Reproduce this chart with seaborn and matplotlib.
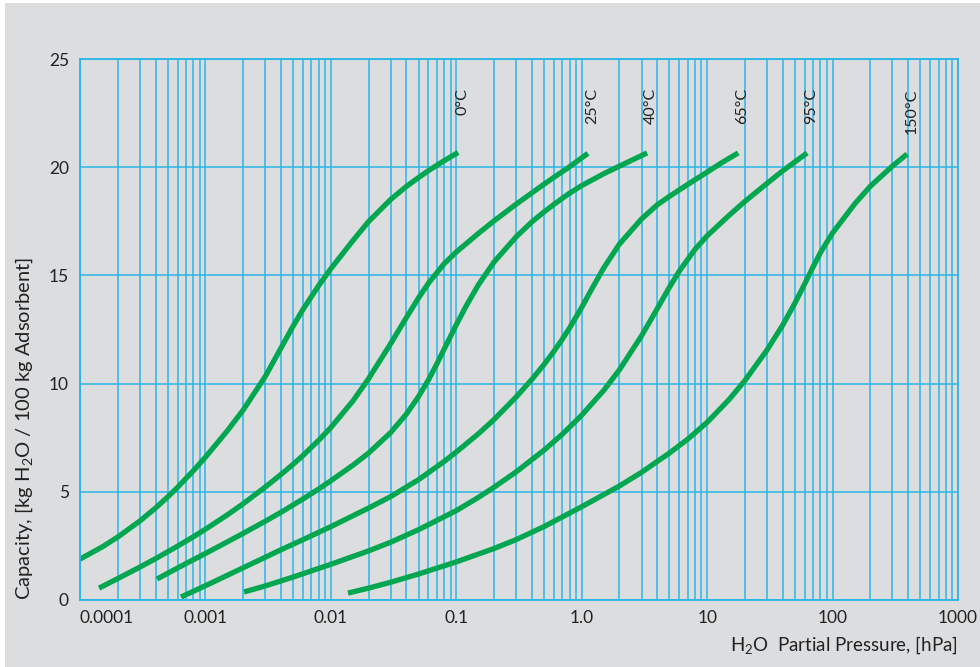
import numpy as np
import pandas as pd
import matplotlib.pyplot as plt
import seaborn as sns
from matplotlib.patches import Rectangle
from matplotlib.ticker import FixedLocator, NullFormatter

# isotherms: partial pressure [hPa] vs capacity [kg/100 kg]
temps = ['0°C', '25°C', '40°C', '65°C', '95°C', '150°C']

p_0 = [1.0e-4, 1.5e-4, 2e-4, 3e-4, 4e-4, 5e-4, 6e-4, 8e-4, 1e-3, 1.5e-3, 2e-3, 3e-3,
       4e-3, 5e-3, 6e-3, 8e-3, 0.01, 0.015, 0.02, 0.03, 0.04, 0.05, 0.06, 0.08, 0.1034]
q_0 = [1.89, 2.45, 2.91, 3.65, 4.25, 4.76, 5.21, 5.97, 6.60, 7.83, 8.78, 10.33,
       11.64, 12.66, 13.43, 14.53, 15.31, 16.61, 17.49, 18.51, 19.11, 19.52, 19.84, 20.30, 20.68]

p_25 = [1.42e-4, 2e-4, 3e-4, 4e-4, 6e-4, 8e-4, 1e-3, 1.5e-3, 2e-3, 3e-3, 4e-3, 5e-3,
        6e-3, 8e-3, 0.01, 0.015, 0.02, 0.03, 0.04, 0.05, 0.06, 0.08, 0.1, 0.15,
        0.2, 0.3, 0.4, 0.5, 0.6, 0.8, 1.12]
q_25 = [0.55, 0.99, 1.52, 1.91, 2.49, 2.92, 3.27, 3.94, 4.45, 5.22, 5.80, 6.27,
        6.68, 7.38, 7.97, 9.20, 10.23, 11.85, 13.05, 13.96, 14.64, 15.54, 16.08, 16.94,
        17.52, 18.29, 18.81, 19.21, 19.53, 20.02, 20.64]

p_40 = [4.11e-4, 6e-4, 8e-4, 1e-3, 1.5e-3, 2e-3, 3e-3, 4e-3, 6e-3, 8e-3, 0.01, 0.015,
        0.02, 0.03, 0.04, 0.05, 0.06, 0.07, 0.08, 0.1, 0.12, 0.15, 0.2, 0.3, 0.4,
        0.5, 0.6, 0.8, 1.0, 1.5, 2.0, 3.32]
q_40 = [0.97, 1.48, 1.86, 2.15, 2.69, 3.08, 3.64, 4.05, 4.67, 5.13, 5.51, 6.23,
        6.79, 7.74, 8.59, 9.40, 10.17, 10.91, 11.59, 12.72, 13.59, 14.56, 15.62, 16.78, 17.47,
        17.93, 18.28, 18.80, 19.15, 19.70, 20.05, 20.66]

p_65 = [6.39e-4, 1e-3, 2e-3, 4e-3, 6e-3, 0.01, 0.02, 0.03, 0.05, 0.08, 0.1, 0.15,
        0.2, 0.3, 0.4, 0.5, 0.6, 0.7, 0.8, 1.0, 1.2, 1.5, 2.0, 3.0,
        4.0, 5.0, 6.0, 8.0, 10.0, 13.0, 17.7]
q_65 = [0.14, 0.66, 1.49, 2.32, 2.79, 3.39, 4.25, 4.78, 5.56, 6.40, 6.84, 7.68,
        8.34, 9.38, 10.19, 10.88, 11.49, 12.05, 12.57, 13.52, 14.36, 15.35, 16.45, 17.61,
        18.26, 18.65, 18.95, 19.42, 19.77, 20.20, 20.66]

p_95 = [2.03e-3, 3e-3, 5e-3, 0.01, 0.02, 0.03, 0.05, 0.1, 0.15, 0.2, 0.3, 0.5,
        0.7, 1.0, 1.5, 2.0, 3.0, 4.0, 5.0, 6.0, 8.0, 10.0, 15.0, 20.0,
        30.0, 40.0, 62.7]
q_95 = [0.37, 0.65, 1.06, 1.65, 2.27, 2.67, 3.25, 4.13, 4.74, 5.21, 5.92, 6.92,
        7.66, 8.54, 9.69, 10.64, 12.21, 13.46, 14.45, 15.20, 16.20, 16.83, 17.78, 18.42,
        19.25, 19.83, 20.66]

p_150 = [0.0137, 0.02, 0.03, 0.05, 0.1, 0.2, 0.3, 0.5, 1.0, 2.0, 3.0, 5.0,
         7.0, 10.0, 15.0, 20.0, 30.0, 40.0, 50.0, 60.0, 70.0, 80.0, 100.0, 150.0,
         200.0, 300.0, 393.0]
q_150 = [0.32, 0.55, 0.82, 1.20, 1.76, 2.38, 2.79, 3.39, 4.31, 5.27, 5.90, 6.79,
         7.43, 8.21, 9.27, 10.14, 11.55, 12.70, 13.71, 14.61, 15.40, 16.05, 16.96, 18.30,
         19.12, 20.05, 20.61]

x_ticks = [1e-4, 1e-3, 1e-2, 1e-1, 1, 10, 100, 1000]
x_ticklabels = ['0.0001', '0.001', '0.01', '0.1', '1.0', '10', '100', '1000']
y_ticks = [0, 5, 10, 15, 20, 25]

green = '#00a650'
blue = '#2bb5e8'
bg = '#dcdddf'
txt = '#222222'

sns.set_style('white')
plt.rcParams['font.family'] = ['Lato', 'DejaVu Sans']
plt.rcParams['mathtext.default'] = 'regular'

series = [(p_0, q_0), (p_25, q_25), (p_40, q_40), (p_65, q_65), (p_95, q_95), (p_150, q_150)]
frames = []
for t, (p, q) in zip(temps, series):
    frames.append(pd.DataFrame({'p': p, 'q': q, 'temp': t}))
df = pd.concat(frames, ignore_index=True)

fig = plt.figure(figsize=(9.8, 6.67), dpi=100, facecolor='white')
fig.patches.append(Rectangle((5 / 980, 0), 1, (667 - 3) / 667, transform=fig.transFigure,
                             facecolor=bg, edgecolor='none', zorder=-10))
ax = fig.add_axes([80 / 980, 67 / 667, 878 / 980, 541 / 667])
ax.set_facecolor('none')

ax.set_xscale('log')
minor = [m * 10.0 ** e for e in range(-4, 3) for m in range(2, 10)]
ax.xaxis.set_major_locator(FixedLocator(x_ticks))
ax.xaxis.set_minor_locator(FixedLocator(minor))
ax.xaxis.set_minor_formatter(NullFormatter())
ax.set_xticks(x_ticks)
ax.set_xticklabels(x_ticklabels)
ax.set_yticks(y_ticks)
ax.set_xlim(1e-4, 1000)
ax.set_ylim(0, 25)

ax.grid(True, which='both', axis='x', color=blue, linewidth=1.1)
ax.grid(True, which='major', axis='y', color=blue, linewidth=1.1)
ax.set_axisbelow(True)
for s in ax.spines.values():
    s.set_color(blue)
    s.set_linewidth(1.3)

sns.lineplot(data=df, x='p', y='q', hue='temp', palette=[green] * len(temps),
             linewidth=3.8, sort=False, estimator=None, legend=False,
             solid_capstyle='butt', solid_joinstyle='round', ax=ax)

for t, (p, q) in zip(temps, series):
    ax.annotate(t, xy=(p[-1], 23.65), xytext=(3, 0), textcoords='offset points',
                rotation=90, ha='center', va='top', fontsize=11.5, color=txt)

ax.tick_params(which='both', length=0, labelsize=12.5, labelcolor=txt)
ax.tick_params(axis='x', pad=7)
ax.tick_params(axis='y', pad=8)
ax.get_xticklabels()[0].set_horizontalalignment('left')

ax.set_xlabel('H$_2$O  Partial Pressure, [hPa]', loc='right', fontsize=13.5, color=txt, labelpad=6)
ax.set_ylabel('Capacity, [kg H$_2$O / 100 kg Adsorbent]', loc='bottom', fontsize=14.5,
              color=txt, labelpad=10)

plt.savefig('out.png', dpi=100, facecolor=fig.get_facecolor())
